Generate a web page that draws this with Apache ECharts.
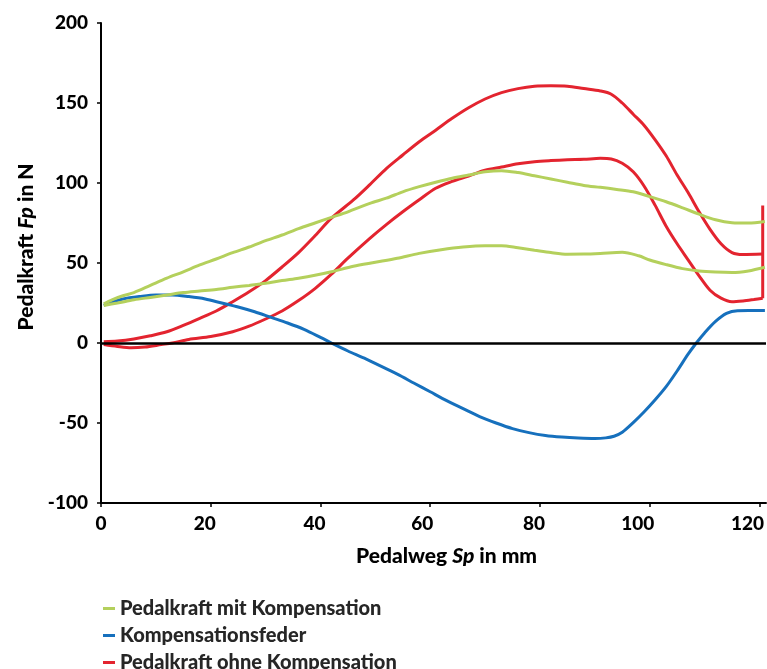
<!DOCTYPE html>
<html>
<head>
<meta charset="utf-8">
<script src="https://cdn.jsdelivr.net/npm/echarts@6/dist/echarts.min.js"></script>
<style>
html,body{margin:0;padding:0;background:#fff;}
#chart{width:767px;height:669px;}
</style>
</head>
<body>
<div id="chart"></div>
<script>
// Legend names
const seriesNames = ['Pedalkraft mit Kompensation', 'Kompensationsfeder', 'Pedalkraft ohne Kompensation'];

// Tick values
const xTicks = [0, 20, 40, 60, 80, 100, 120];
const yTicks = [-100, -50, 0, 50, 100, 150, 200];

// Pedalkraft mit Kompensation (upper branch) [Sp mm, Fp N]
const mitKompOben = [[0.5,24.5],[2,27],[4,29.5],[6,31.5],[9,36],[12,40.5],[15,44.5],[18,48.8],[21,52.5],[24,56.5],[27,60],[30,64],[33,67.5],[36,71.5],[39,75],[42,78.5],[45,82],[49,87.3],[52,90.5],[55,94.5],[58,97.7],[61,100.5],[64,103],[67,105],[70,107],[73,107.7],[76,106.5],[79,104.5],[82,102.5],[85,100.5],[88,98.5],[91,97.3],[94,96],[97,94.5],[100,91.5],[103,88.3],[106,84.5],[109,80.5],[112,77],[115,75.2],[118,75],[121,76]];
// Pedalkraft mit Kompensation (lower branch)
const mitKompUnten = [[0.5,23.5],[3,25],[6,27],[9,28.5],[12,30],[15,31.5],[18,32.5],[21,33.5],[24,34.8],[27,36],[30,37.3],[33,39],[36,40.5],[39,42.3],[42,44.5],[46,48],[50,50.5],[54,53],[58,56],[62,58.3],[66,60],[70,60.8],[73,60.8],[76,59.5],[79,58],[82,56.5],[85,55.5],[88,55.6],[91,56],[95,56.7],[98,54.5],[100,51.9],[103,49],[106,46.5],[109,45],[112,44.3],[115,44],[118,45],[121,47.3]];
// Kompensationsfeder
const feder = [[0.5,23.5],[2,25.5],[4,27.5],[7,29],[10,30],[13,30],[16,29],[19,27.5],[22,25],[25,22.5],[28,19.5],[31,16],[34,12.5],[37,8.5],[40,3.5],[42,0],[45,-5],[48,-9.5],[51,-14.5],[54,-19.5],[57,-25],[60,-30.5],[63,-36],[66,-41],[69,-46],[72,-50],[75,-53.5],[78,-56],[81,-57.8],[84,-58.8],[87,-59.4],[90,-59.7],[92,-59.3],[93.5,-58.3],[95,-55.8],[97,-49.8],[99,-43],[101,-35.5],[103,-27.3],[105,-17.5],[107,-7],[108.5,0],[110,6.3],[112,13.5],[114,18.5],[116,20.2],[118,20.3],[121,20.3]];
// Pedalkraft ohne Kompensation (upper branch)
const ohneKompOben = [[0.5,0.8],[3,1.2],[6,2.5],[9,4.5],[12,7],[15,11],[18,15.4],[21,20],[24,25.8],[27,32],[30,39],[33,47.5],[36,56.5],[39,67],[42,78],[46,89.4],[49,99],[52,109],[55,117.5],[58,125.8],[61,133],[64,140.4],[67,147],[70,152.5],[73,156.5],[76,159],[79,160.5],[82,160.8],[85,160.5],[88,159],[91,157.5],[93,155.5],[95,150],[97,143],[99,136],[101,127],[103,117],[105,105],[107,94],[109,82],[111,71],[113,62],[115,56.5],[117,55.3],[120.6,55.6]];
// Pedalkraft ohne Kompensation (end of stroke)
const ohneKompEnde = [[120.6,55.6],[120.6,86],[120.6,28]];
// Pedalkraft ohne Kompensation (lower branch)
const ohneKompUnten = [[0.5,-1],[3,-2.2],[5.5,-3],[8,-2.5],[11,-1],[13,0],[16,2.2],[20,4],[24,7],[27,10.5],[30,15],[33,20],[36,26.5],[39,34],[42,43],[45,53],[49,65.4],[52,74],[55,82],[58,89.5],[61,96.7],[64,101],[67,104.4],[70,108],[73,110],[76,112],[79,113.3],[82,114],[85,114.5],[88,114.8],[91,115.4],[93,115],[95,112.3],[97,107],[99,98],[101,86],[103,73],[105,62],[107,52],[109,42],[111,33],[113,28],[115,25.8],[117,26.3],[119,27.2],[120.6,28]];

// Label shift (px to the left) of each x tick label, as drawn in the reference
const xLabelShift = {0: 0, 20: 6, 40: 6, 60: 8, 80: 6, 100: 12, 120: 12};

const colors = {green:'#b4d05c', blue:'#1670bd', red:'#e3242f'};
const FONT = 'Lato';
const W = 900;

function lineSeries(name, data, color, smooth){
  return {
    name: name, type: 'line', data: data, showSymbol: false, symbol: 'none',
    smooth: smooth, lineStyle: {color: color, width: 3}, itemStyle: {color: color},
    animation: false, z: 3
  };
}

const xRich = {};
Object.keys(xLabelShift).forEach(k => {
  xRich['s' + k] = {fontFamily: FONT, fontWeight: W, fontSize: 19, color: '#000',
    padding: [0, xLabelShift[k] * 2, 0, 0]};
});

const chart = echarts.init(document.getElementById('chart'), null, {renderer: 'canvas'});
chart.setOption({
  animation: false,
  backgroundColor: '#fff',
  grid: {left: 101, right: 1, top: 23, bottom: 166, containLabel: false, outerBoundsMode: 'none'},
  legend: {
    orient: 'vertical', left: 98, top: 593, height: 120,
    data: seriesNames.map(n => ({name: n, icon: 'rect'})),
    itemWidth: 12, itemHeight: 3, itemGap: 6,
    textStyle: {fontFamily: FONT, fontWeight: W, fontSize: 20, color: '#262626', lineHeight: 21},
    selectedMode: false
  },
  xAxis: {
    type: 'value', min: 0, max: 121.2,
    name: '{b|Pedalweg }{i|Sp}{b| in mm}',
    nameLocation: 'middle', nameGap: 43,
    nameTextStyle: {padding: [0,0,0,26], rich: {
      b: {fontFamily: FONT, fontWeight: W, fontSize: 21, color: '#000'},
      i: {fontFamily: FONT, fontWeight: W, fontStyle: 'italic', fontSize: 21, color: '#000'}
    }},
    axisLine: {onZero: false, lineStyle: {color: '#000', width: 2}},
    axisTick: {show: true, inside: false, length: 4, customValues: xTicks, lineStyle: {color: '#000', width: 1.5}},
    axisLabel: {customValues: xTicks, margin: 11, fontFamily: FONT, fontWeight: W, fontSize: 19, color: '#000',
      formatter: v => (xLabelShift[v] !== undefined ? '{s' + v + '|' + v + '}' : String(v)),
      rich: xRich},
    splitLine: {show: false}
  },
  yAxis: {
    type: 'value', min: -100, max: 200, interval: 50,
    name: '{b|Pedalkraft }{i|Fp}{b| in N}',
    nameLocation: 'middle', nameGap: 64, nameRotate: 90,
    nameTextStyle: {padding: [0,0,0,32], rich: {
      b: {fontFamily: FONT, fontWeight: W, fontSize: 21, color: '#000'},
      i: {fontFamily: FONT, fontWeight: W, fontStyle: 'italic', fontSize: 21, color: '#000'}
    }},
    axisLine: {show: true, lineStyle: {color: '#000', width: 2}},
    axisTick: {show: true, inside: false, length: 4, lineStyle: {color: '#000', width: 1.5}},
    axisLabel: {margin: 13, fontFamily: FONT, fontWeight: W, fontSize: 19, color: '#000'},
    splitLine: {show: false}
  },
  series: [
    Object.assign(lineSeries(seriesNames[2], ohneKompOben, colors.red, 0.3), {
      markLine: {silent: true, symbol: 'none', label: {show: false}, animation: false,
        lineStyle: {color: '#000', width: 2.5, type: 'solid'}, data: [{yAxis: 0}]}
    }),
    lineSeries(seriesNames[2], ohneKompEnde, colors.red, false),
    lineSeries(seriesNames[2], ohneKompUnten, colors.red, 0.3),
    lineSeries(seriesNames[1], feder, colors.blue, 0.3),
    lineSeries(seriesNames[0], mitKompOben, colors.green, 0.3),
    lineSeries(seriesNames[0], mitKompUnten, colors.green, 0.3)
  ]
});
</script>
</body>
</html>
